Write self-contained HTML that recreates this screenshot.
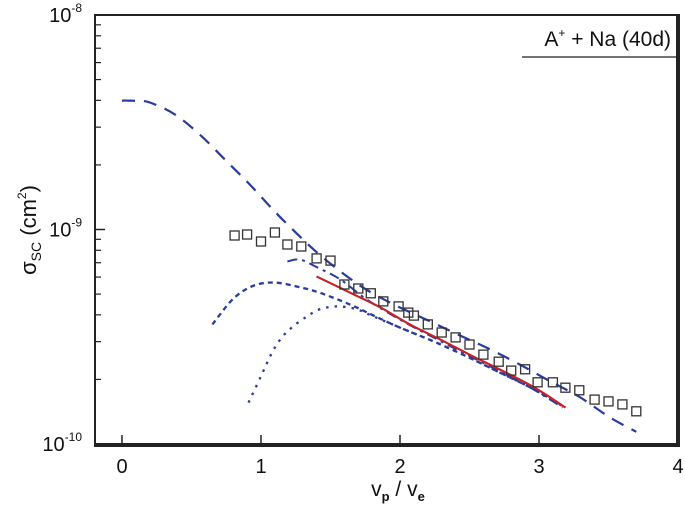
<!DOCTYPE html>
<html><head><meta charset="utf-8"><style>
html,body{margin:0;padding:0;background:#fff;}
#wrap{position:relative;width:685px;height:520px;}
svg{display:block;font-family:"Liberation Sans",Arial,sans-serif;}
#frame{position:absolute;left:94px;top:14px;width:582px;height:429px;border:2px solid #222;box-sizing:content-box;pointer-events:none;}
</style></head><body>
<div id="wrap">
<svg id="chart" width="685" height="520" viewBox="0 0 685 520" xmlns="http://www.w3.org/2000/svg">
<g id="plot"></g>
<path d="M95,15 L677,15 L677,444 L95,444 Z" fill="none" stroke="#222" stroke-width="2"/>
<line x1="522" y1="57" x2="677" y2="57" stroke="#222" stroke-width="1.3"/>
<text x="671" y="46" font-size="21" text-anchor="end" fill="#111">A<tspan dy="-9" font-size="12">+</tspan><tspan dy="9"> + Na (40d)</tspan></text>
<g id="ticks"></g>
<text transform="translate(36,230) rotate(-90)" font-size="22" text-anchor="middle" fill="#111">σ<tspan font-size="14" dy="5">SC</tspan><tspan dy="-5"> (cm</tspan><tspan font-size="12" dy="-10">2</tspan><tspan dy="10">)</tspan></text>
<text x="398" y="496" font-size="21" text-anchor="middle" fill="#111">v<tspan font-size="13" dy="5" font-weight="bold">p</tspan><tspan dy="-5"> / v</tspan><tspan font-size="13" dy="5" font-weight="bold">e</tspan></text>
</svg>
<div id="frame"></div>
</div>
<script>
// data (values in units of 1e-10 cm^2)
const expX = [0.81,0.90,1.00,1.10,1.19,1.29,1.40,1.50,1.60,1.70,1.79,1.88,1.99,2.06,2.10,2.20,2.30,2.40,2.50,2.60,2.71,2.80,2.90,2.99,3.10,3.19,3.29,3.40,3.50,3.60,3.70];
const expY = [9.38,9.48,8.79,9.68,8.51,8.33,7.33,7.16,5.54,5.31,5.04,4.62,4.38,4.10,3.97,3.61,3.31,3.14,2.91,2.61,2.42,2.20,2.23,1.94,1.94,1.83,1.78,1.61,1.58,1.53,1.42];
const longDashX = [0,0.10,0.20,0.38,0.56,0.74,0.92,1.10,1.28,1.42,1.60,1.78,2.00,2.22,2.43,2.65,2.86,3.08,3.29,3.51,3.70];
const longDashY = [39.9,39.8,39.1,34.4,27.7,21.2,16.2,12.1,9.27,7.64,6.17,5.14,4.33,3.72,3.21,2.76,2.35,1.96,1.66,1.33,1.14];
const dashDotX = [1.19,1.28,1.39,1.57,1.76,2.00,2.24,2.48,2.72,2.94,3.17];
const dashDotY = [7.10,7.25,6.73,5.85,4.72,3.80,3.14,2.61,2.18,1.83,1.48];
const solidX = [1.40,1.64,1.86,2.07,2.29,2.50,2.72,2.97,3.19];
const solidY = [6.04,5.08,4.33,3.61,3.07,2.61,2.22,1.83,1.48];
const shortDashX = [0.65,0.80,0.94,1.09,1.26,1.42,1.64,1.81,2.00,2.24,2.48,2.72,2.97,3.19];
const shortDashY = [3.61,4.75,5.45,5.66,5.42,5.08,4.47,3.97,3.49,3.01,2.56,2.15,1.79,1.48];
const dotX = [0.91,1.00,1.08,1.15,1.23,1.33,1.42,1.55,1.69,1.81,2.00,2.24,2.48,2.72,2.97,3.17];
const dotY = [1.56,2.07,2.67,3.14,3.53,3.93,4.24,4.38,4.24,3.93,3.49,3.01,2.56,2.15,1.79,1.50];
const xTicks = [0,1,2,3,4];
const yDecades = [-10,-9,-8];

const NS = "http://www.w3.org/2000/svg";
const X0 = 122, XU = 139, YB = 444, YD = 214.5;
function sx(v){ return X0 + v*XU; }
function sy(v){ return YB - (Math.log10(v*1e-10) + 10)*YD; }
function mk(tag, attrs, parent){ const e=document.createElementNS(NS,tag); for(const k in attrs) e.setAttribute(k,attrs[k]); parent.appendChild(e); return e; }
const plot = document.getElementById('plot');
const ticks = document.getElementById('ticks');
const BLUE = '#2a3c9c';

function smoothPath(pts){
  let d = 'M'+pts[0][0].toFixed(1)+','+pts[0][1].toFixed(1);
  for (let i=0;i<pts.length-1;i++){
    const p0=pts[Math.max(0,i-1)], p1=pts[i], p2=pts[i+1], p3=pts[Math.min(pts.length-1,i+2)];
    const c1=[p1[0]+(p2[0]-p0[0])/6, p1[1]+(p2[1]-p0[1])/6];
    const c2=[p2[0]-(p3[0]-p1[0])/6, p2[1]-(p3[1]-p1[1])/6];
    d += ' C'+c1[0].toFixed(1)+','+c1[1].toFixed(1)+' '+c2[0].toFixed(1)+','+c2[1].toFixed(1)+' '+p2[0].toFixed(1)+','+p2[1].toFixed(1);
  }
  return d;
}
function line(xs, ys, name, color, dash, w){
  const pts = xs.map((x,i)=>[sx(x), sy(ys[i])]);
  const p = mk('path',{d:smoothPath(pts),fill:'none',stroke:color,'stroke-width':w,'stroke-dasharray':dash,'stroke-linecap':'butt'},plot);
  
  
}
line(solidX, solidY, 'blue-solid-curve', BLUE, 'none', 2);
line(longDashX, longDashY, 'long-dash-curve', BLUE, '13 9', 2.2);
line(dashDotX, dashDotY, 'dash-dot-curve', BLUE, '10 5 3 5', 2);
line(shortDashX, shortDashY, 'short-dash-curve', BLUE, '5 4', 2.3);
line(dotX, dotY, 'dotted-curve', BLUE, '2.5 6', 2.3);
line(solidX, solidY, 'red-solid-curve', '#d42020', 'none', 2);

expX.forEach((x,i)=>{
  const r = mk('rect',{x:(sx(x)-4.5).toFixed(1),y:(sy(expY[i])-4.5).toFixed(1),width:9,height:9,fill:'none',stroke:'#333','stroke-width':1.3},plot);
  
  
});

xTicks.forEach(t=>{
  const X = sx(t);
  if (t<4){
    const l = mk('line',{x1:X,y1:YB,x2:X,y2:YB-9,stroke:'#222','stroke-width':1.5},ticks);
    
    
  }
  const tx = mk('text',{x:X,y:473,'font-size':20,'text-anchor':'middle',fill:'#111'},ticks);
  
  
  tx.textContent = t;
});
yDecades.forEach((e,i)=>{
  const Y = YB - i*YD;
  const tx = mk('text',{x:82,y:Y+7,'font-size':20,'text-anchor':'end',fill:'#111'},ticks);
  
  
  tx.textContent = '10';
  const sp = mk('tspan',{dy:-10,'font-size':12},tx);
  sp.textContent = String(e);
  if (i < yDecades.length-1){
    for (let m=2;m<=9;m++){
      const yy = Y - Math.log10(m)*YD;
      const l = mk('line',{x1:95,y1:yy,x2:101,y2:yy,stroke:'#222','stroke-width':1.2},ticks);
      
      
    }
  }
  const l = mk('line',{x1:95,y1:Y,x2:105,y2:Y,stroke:'#222','stroke-width':1.5},ticks);
  
  
});
</script>
</body></html>
